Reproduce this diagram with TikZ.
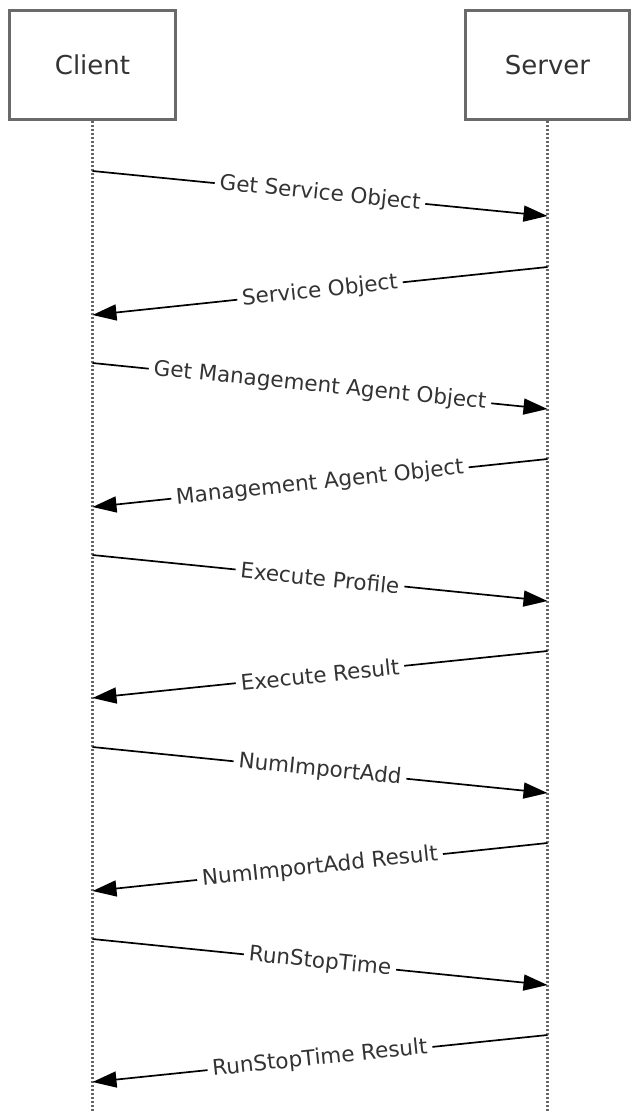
\documentclass[tikz,border=0pt]{standalone}
\usepackage{fontspec}
\setmainfont{DejaVu Sans}
\usetikzlibrary{arrows.meta}
\definecolor{txt}{HTML}{333333}
\definecolor{boxline}{HTML}{6A6A6A}
\definecolor{lifecol}{HTML}{666666}
\tikzset{
  actor/.style={draw=boxline, line width=3pt, fill=white, minimum width=166pt, minimum height=109pt, inner sep=0pt, text=txt, font=\fontsize{26}{30}\selectfont},
  lifeline/.style={draw=lifecol, line width=2.6pt, dash pattern=on 2pt off 2pt},
  msg/.style={draw=black, line width=1.7pt, -{Triangle[length=24pt,width=16pt]}},
  msglabel/.style={midway, sloped, fill=white, inner xsep=5pt, inner ysep=1pt, text=txt, font=\fontsize{21.5}{25}\selectfont}
}
\begin{document}
\begin{tikzpicture}[x=1pt,y=-1pt]
\useasboundingbox (0,0) rectangle (632,1113);
\coordinate (cend) at (92.5,1113);
\coordinate (send) at (547.5,1113);
\draw[lifeline] (92.5,65) -- (cend);
\draw[lifeline] (547.5,65) -- (send);
\node[actor] (client) at (92.5,65) {Client};
\node[actor, minimum width=164pt] (server) at (547.5,65) {Server};
% message end points
\coordinate (a1) at (92.5,171);  \coordinate (b1) at (547.5,216);
\coordinate (a2) at (547.5,267); \coordinate (b2) at (92.5,315);
\coordinate (a3) at (92.5,363);  \coordinate (b3) at (547.5,409);
\coordinate (a4) at (547.5,459); \coordinate (b4) at (92.5,507);
\coordinate (a5) at (92.5,555);  \coordinate (b5) at (547.5,601);
\coordinate (a6) at (547.5,651); \coordinate (b6) at (92.5,698);
\coordinate (a7) at (92.5,747);  \coordinate (b7) at (547.5,793);
\coordinate (a8) at (547.5,843); \coordinate (b8) at (92.5,891);
\coordinate (a9) at (92.5,939);  \coordinate (b9) at (547.5,985);
\coordinate (a10) at (547.5,1035); \coordinate (b10) at (92.5,1082);
\draw[msg] (a1) -- node[msglabel] (l1) {Get Service Object} (b1);
\draw[msg] (a2) -- node[msglabel] (l2) {Service Object} (b2);
\draw[msg] (a3) -- node[msglabel] (l3) {Get Management Agent Object} (b3);
\draw[msg] (a4) -- node[msglabel] (l4) {Management Agent Object} (b4);
\draw[msg] (a5) -- node[msglabel] (l5) {Execute Profile} (b5);
\draw[msg] (a6) -- node[msglabel] (l6) {Execute Result} (b6);
\draw[msg] (a7) -- node[msglabel] (l7) {NumImportAdd} (b7);
\draw[msg] (a8) -- node[msglabel] (l8) {NumImportAdd Result} (b8);
\draw[msg] (a9) -- node[msglabel] (l9) {RunStopTime} (b9);
\draw[msg] (a10) -- node[msglabel] (l10) {RunStopTime Result} (b10);
\end{tikzpicture}
\end{document}
